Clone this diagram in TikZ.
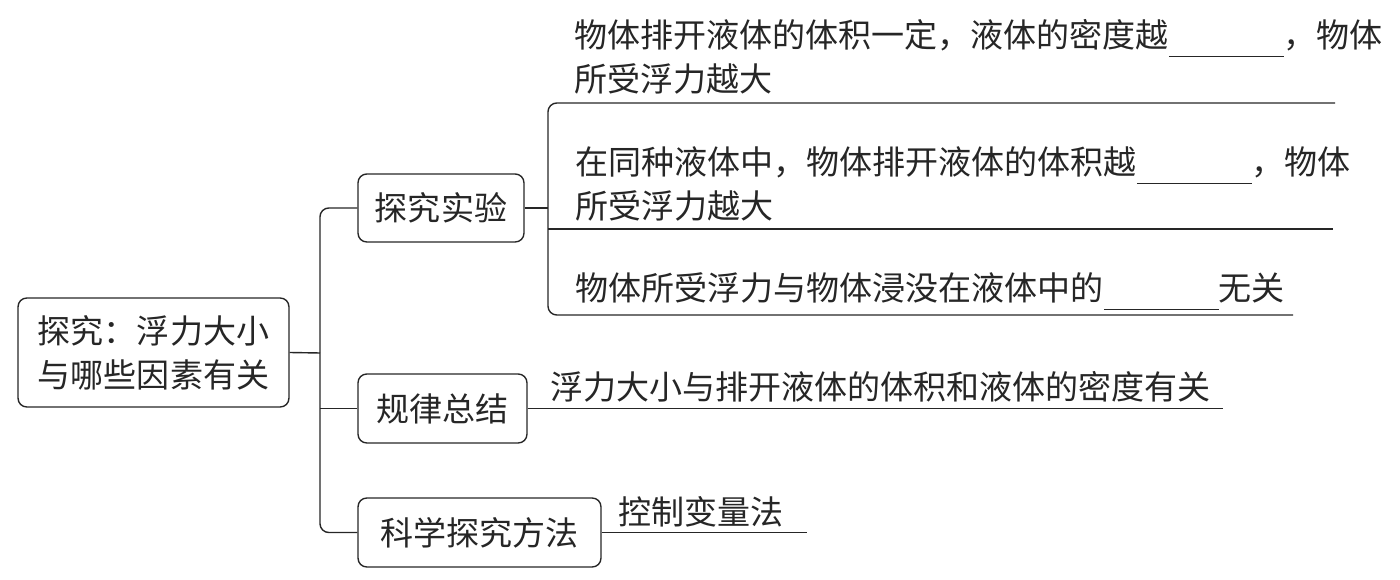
\documentclass[tikz,border=0pt]{standalone}
\usepackage{fontspec}
\setmainfont{Noto Sans CJK SC}
\usepackage{tikz}
\usetikzlibrary{positioning}
\newcommand{\blank}{\smash{\rule[-5.5pt]{2.3cm}{0.8pt}}}
\tikzset{topic/.style={draw, rounded corners=5pt, line width=0.8pt, inner sep=0pt, align=center}}
\tikzset{leaf/.style={anchor=west, inner sep=0pt, align=left}}
\tikzset{branch/.style={line width=0.8pt, rounded corners=5pt}}

\begin{document}
\begin{tikzpicture}[x=0.02cm, y=-0.02cm, font=\fontsize{18.8pt}{25pt}\selectfont, color=black!85]
\useasboundingbox (0,0) rectangle (1400,580);

\coordinate (trunk) at (320,353);
\coordinate (fork) at (548,208);
\coordinate (u1) at (1335,103);
\coordinate (u2) at (1333,229);
\coordinate (u3) at (1293,315);
\coordinate (u4) at (1223,408.5);
\coordinate (u5) at (807,532.5);

\node[topic, minimum width=5.42cm, minimum height=2.18cm] (root) at (153.5,352.5) {探究：浮力大小\\与哪些因素有关};
\node[topic, minimum width=3.32cm, minimum height=1.36cm] (box1) at (441,208) {探究实验};
\node[topic, minimum width=3.38cm, minimum height=1.38cm] (box2) at (442.5,408.5) {规律总结};
\node[topic, minimum width=4.86cm, minimum height=1.38cm] (box3) at (479.5,532.5) {科学探究方法};

\node[leaf] (exp1) at (574,57) {物体排开液体的体积一定，液体的密度越\blank，物体\\所受浮力越大};
\node[leaf] (exp2) at (575,184) {在同种液体中，物体排开液体的体积越\blank，物体\\所受浮力越大};
\node[leaf] (exp3) at (575,288) {物体所受浮力与物体浸没在液体中的\blank 无关};
\node[leaf] (rule) at (550,387) {浮力大小与排开液体的体积和液体的密度有关};
\node[leaf] (method) at (618,512) {控制变量法};

\draw[branch] (box1.west) -| (trunk) |- (box3.west);
\draw[branch] (root.east) -- (trunk);
\draw[branch] (trunk |- box2.west) -- (box2.west);

\draw[branch] (u1) -| (fork) |- (u3);
\draw[branch] (box1.east) -- (fork);
\draw[branch] (fork |- u2) -- (u2);

\draw[branch] (box2.east) -- (u4);
\draw[branch] (box3.east) -- (u5);

\end{tikzpicture}
\end{document}
